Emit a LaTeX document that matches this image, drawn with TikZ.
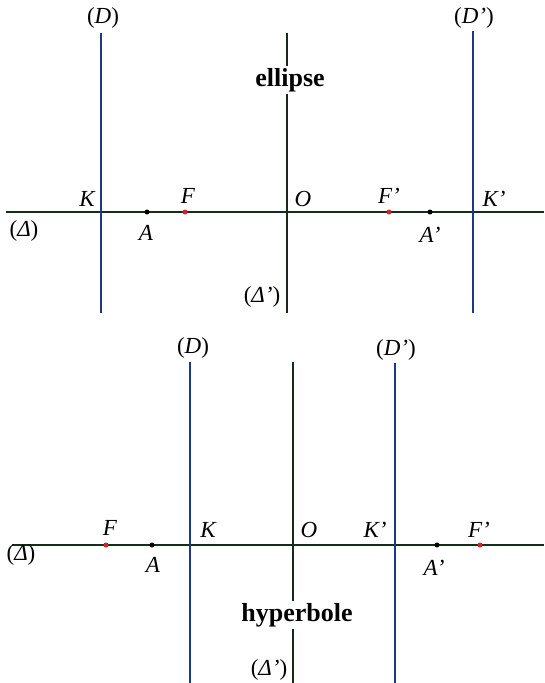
\documentclass[tikz,border=0pt]{standalone}
\usepackage{fontspec}
\setmainfont{Liberation Serif}
\usepackage{xcolor}
\usepackage{tikz}
\usetikzlibrary{positioning}
\definecolor{dirblue}{RGB}{30,55,135}
\definecolor{axisgreen}{RGB}{20,45,25}
\definecolor{focusred}{RGB}{215,35,35}
\newcommand{\pline}[1]{\textup{(}#1\textup{)}}

\begin{document}
\begin{tikzpicture}[x=1pt,y=-1pt]
  \tikzstyle{lbl}=[font=\fontsize{23}{26}\selectfont\itshape,inner sep=0pt]
  \tikzstyle{ttl}=[font=\fontsize{26}{30}\selectfont\bfseries,inner sep=2pt,fill=white]
  \tikzstyle{dir}=[draw=dirblue,line width=1.5pt]
  \tikzstyle{axe}=[draw=axisgreen,line width=1.8pt]
  \tikzstyle{pt}=[circle,fill=black,inner sep=0pt,minimum size=5pt]
  \tikzstyle{fpt}=[pt,fill=focusred]
  \useasboundingbox (0,0) rectangle (544,683);

  % ellipse
  \coordinate (eL) at (6,212);    \coordinate (eR) at (544,212);
  \coordinate (eDt) at (101,33);  \coordinate (eDb) at (101,313);
  \coordinate (eOt) at (287,33);  \coordinate (eOb) at (287,313);
  \coordinate (eDpt) at (473,31); \coordinate (eDpb) at (473,313);
  \draw[axe] (eL) -- (eR);
  \draw[dir] (eDt) -- (eDb);
  \draw[dir] (eDpt) -- (eDpb);
  \draw[axe] (eOt) -- (eOb);
  \node[ttl] (eTitle) at (290,80) {ellipse};
  \node[pt]  (eA)  at (147,212) {};
  \node[fpt] (eF)  at (185,212) {};
  \node[fpt] (eFp) at (389,212) {};
  \node[pt]  (eAp) at (430,212) {};
  \node[lbl] (eDlab)  at (103,18)  {\pline{D}};
  \node[lbl] (eDplab) at (474,18)  {\pline{D’}};
  \node[lbl] (eK)     at (87,199)  {K};
  \node[lbl] (eFlab)  at (188,196) {F};
  \node[lbl] (eO)     at (303,199) {O};
  \node[lbl] (eFplab) at (389,196) {F’};
  \node[lbl] (eKp)    at (494,199) {K’};
  \node[lbl] (eAlab)  at (146,233) {A};
  \node[lbl] (eAplab) at (430,235) {A’};
  \node[lbl] (eDelta) at (24,231)  {\pline{Δ}};
  \node[lbl] (eDeltap) at (262,297) {\pline{Δ’}};

  % hyperbole
  \coordinate (hL) at (12,545);    \coordinate (hR) at (544,545);
  \coordinate (hDt) at (190,362);  \coordinate (hDb) at (190,683);
  \coordinate (hOt) at (293,362);  \coordinate (hOb) at (293,683);
  \coordinate (hDpt) at (395,363); \coordinate (hDpb) at (395,683);
  \draw[axe] (hL) -- (hR);
  \draw[dir] (hDt) -- (hDb);
  \draw[dir] (hDpt) -- (hDpb);
  \draw[axe] (hOt) -- (hOb);
  \node[ttl] (hTitle) at (297,615) {hyperbole};
  \node[fpt] (hF)  at (106,545) {};
  \node[pt]  (hA)  at (152,545) {};
  \node[pt]  (hAp) at (437,545) {};
  \node[fpt] (hFp) at (480,545) {};
  \node[lbl] (hDlab)  at (193,348) {\pline{D}};
  \node[lbl] (hDplab) at (396,350) {\pline{D’}};
  \node[lbl] (hFlab)  at (110,528) {F};
  \node[lbl] (hK)     at (208,530) {K};
  \node[lbl] (hO)     at (309,530) {O};
  \node[lbl] (hKp)    at (375,530) {K’};
  \node[lbl] (hFplab) at (479,530) {F’};
  \node[lbl] (hAlab)  at (153,565) {A};
  \node[lbl] (hAplab) at (434,568) {A’};
  \node[lbl] (hDelta) at (21,555)  {\pline{Δ}};
  \node[lbl] (hDeltap) at (269,670) {\pline{Δ’}};
\end{tikzpicture}
\end{document}
